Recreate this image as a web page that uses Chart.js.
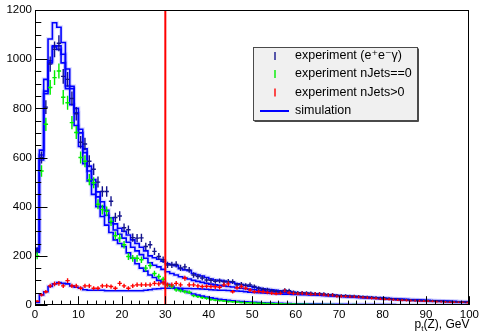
<!DOCTYPE html>
<html><head><meta charset="utf-8">
<script src="https://cdn.jsdelivr.net/npm/chart.js@4.4.0/dist/chart.umd.min.js"></script>
<style>html,body{margin:0;padding:0;background:#fff}#c{display:block}</style>
</head><body>
<canvas id="c" width="482" height="332"></canvas>
<script>
// ---- data (1 GeV bins, 0..100 GeV) ----
const xTicks = [0,10,20,30,40,50,60,70,80,90,100];
const yTicks = [0,200,400,600,800,1000,1200];
const cutValue = 30;
const xTitle = ["p", "t", "(Z), GeV"];
const legendLabels = ["experiment (e\u207Ae\u207B\u03B3)", "experiment nJets==0", "experiment nJets>0", "simulation"];

const expAll = [220,600,805,980,1040,1065,930,918,840,778,
 662,655,585,552,500,462,462,422,356,362,
 314,306,274,272,273,238,245,218,197,184,
 163,163,165,151,155,143,122,116,110,102,
 100,96,98,94,96,95,82,84,80,82,
 75,68,64,62,58,56,54,60,58,52,
 50,50,49,48,46,46,45,42,42,39,
 38,38,36,36,35,33,32,31,30,28,
 27,26,24,23,22,21,20,19,19,18,
 17,17,16,15,14,14,13,12,12,11];
const expJ0 = [200,545,735,885,925,952,845,823,742,702,
 600,585,510,497,410,388,381,340,282,272,
 245,197,190,190,184,150,160,128,116,105,
 80,75,62,58,54,52,38,34,30,27,
 22,20,18,16,14,13,12,10,9,9,
 8,7,7,6,6,5,5,4,4,4,
 3,3,3,2,2,2,2,2,2,1,
 2,1,1,2,1,1,1,1,1,1,
 1,1,1,1,1,1,1,1,1,1,
 1,1,1,1,1,1,1,1,1,1];
const expJ1 = [15,41,54,78,86,88,78,99,78,78,
 68,78,78,68,68,78,78,75,68,88,
 78,68,78,82,82,82,82,88,86,90,
 82,82,88,82,109,82,82,78,75,76,
 75,74,72,82,86,54,70,75,68,61,
 54,55,54,51,48,46,48,58,50,48,
 46,48,46,44,45,44,42,40,40,36,
 36,35,34,34,33,31,30,28,27,25,
 24,23,22,21,20,19,18,18,17,16,
 16,15,14,14,13,12,12,11,11,10];
const simAll = [230,630,918,1082,1148,1130,1068,960,890,800,
 715,635,565,510,460,420,385,355,330,312,
 300,285,265,250,235,220,200,192,186,178,
 168,165,160,148,143,140,128,122,118,112,
 106,102,100,97,94,92,86,83,80,76,
 72,69,66,64,62,60,58,56,54,52,
 50,49,48,46,45,44,42,41,40,38,
 37,36,35,34,33,32,31,30,29,28,
 27,26,25,24,23,22,21,21,20,19,
 18,17,17,16,15,15,14,13,13,12];
const simMid = [225,610,870,993,1054,1054,1020,891,880,782,
 700,620,545,490,440,400,365,335,305,288,
 272,255,235,220,205,190,172,162,155,145,
 135,128,122,115,110,106,100,96,92,88,
 85,82,80,77,75,73,70,68,66,64,
 62,60,58,56,54,53,51,50,49,47,
 46,45,44,43,42,41,40,39,38,37,
 36,35,34,33,32,31,30,29,28,27,
 26,25,24,23,22,22,21,20,19,18,
 18,17,16,15,15,14,14,13,12,12];
const simJ0 = [215,590,860,985,1050,1040,985,880,815,730,
 645,575,505,450,400,360,325,295,265,250,
 238,212,190,168,150,138,122,112,100,92,
 84,76,68,62,56,50,45,40,36,32,
 29,26,23,21,19,17,15,14,13,12,
 11,10,9,8,8,7,7,6,6,5,
 5,5,4,4,4,4,3,3,3,3,
 3,3,2,2,2,2,2,2,2,2,
 2,2,2,1,1,1,1,1,1,1,
 1,1,1,1,1,1,1,1,1,1];
const simJ1 = [10,41,54,75,86,91,88,86,78,72,
 68,62,60,60,60,60,58,58,58,58,
 58,58,58,58,58,60,62,65,66,68,
 68,68,68,68,67,67,66,66,65,64,
 62,61,60,60,59,58,57,56,54,52,
 51,50,49,48,47,46,45,44,44,43,
 43,42,42,41,41,40,39,38,37,36,
 35,34,33,32,31,30,29,28,27,26,
 25,24,23,22,22,21,20,19,18,18,
 17,16,15,15,14,13,13,12,11,11];

// ---- styling ----
const FONT = '"Liberation Sans", Arial, Helvetica, "DejaVu Sans", sans-serif';
const C_ALL = '#14148c', C_J0 = '#00ee00', C_J1 = '#ff0000', C_SIM = '#0000ff';

// histogram outline: bin low/high edge points (listed high-to-low; same drawn path)
function stepPoints(vals){
  const pts = [];
  for (let i = vals.length - 1; i >= 0; i--) { pts.push({x:i+1, y:vals[i]}); pts.push({x:i, y:vals[i]}); }
  return pts;
}
function centerPoints(vals){ return vals.map((v,i)=>({x:i+0.5, y:v})); }

const datasets = [];
[[expAll,C_ALL],[expJ0,C_J0],[expJ1,C_J1]].forEach(([vals,col])=>{
  datasets.push({type:'scatter', data:centerPoints(vals), order:1,
    pointStyle:'line', pointRadius:2.2, pointBorderWidth:1.4, borderColor:col, backgroundColor:col});
});
[simAll, simMid, simJ0, simJ1].forEach(vals=>{
  datasets.push({type:'line', data:stepPoints(vals), order:2, borderColor:C_SIM, borderWidth:1.6, pointRadius:0, fill:false});
  datasets.push({type:'line', data:stepPoints(vals), order:3, borderColor:'rgba(90,90,255,0.2)', borderWidth:4, pointRadius:0, fill:false});
});
const errorSets = [0, 1, 2];

const rootPlugin = {
  id:'rootStyle',
  afterDatasetsDraw(chart){
    const ctx = chart.ctx, ys = chart.scales.y, ca = chart.chartArea;
    ctx.save();
    ctx.beginPath(); ctx.rect(ca.left, ca.top, ca.right-ca.left, ca.bottom-ca.top); ctx.clip();
    errorSets.forEach(di=>{
      const ds = chart.data.datasets[di];
      const meta = chart.getDatasetMeta(di);
      ctx.strokeStyle = ds.borderColor; ctx.lineWidth = 1.4;
      meta.data.forEach((el, i)=>{
        const v = ds.data[i].y, e = Math.sqrt(v);
        ctx.beginPath();
        ctx.moveTo(el.x, ys.getPixelForValue(v+e));
        ctx.lineTo(el.x, ys.getPixelForValue(Math.max(0,v-e)));
        ctx.stroke();
      });
    });
    ctx.restore();
  },
  afterDraw(chart){
    const ctx = chart.ctx, xs = chart.scales.x, ys = chart.scales.y, ca = chart.chartArea;
    ctx.save();
    const xc = xs.getPixelForValue(cutValue);
    ctx.strokeStyle = '#ff0000'; ctx.lineWidth = 2;
    ctx.beginPath(); ctx.moveTo(xc, ca.top); ctx.lineTo(xc, ca.bottom); ctx.stroke();
    ctx.strokeStyle = '#000'; ctx.lineWidth = 1;
    ctx.strokeRect(Math.round(ca.left)+0.5, Math.round(ca.top)+0.5, Math.round(ca.right-ca.left)-1, Math.round(ca.bottom-ca.top)-1);
    ctx.beginPath();
    for (let v = 0; v <= 1200; v += 50) {
      const y = Math.round(ys.getPixelForValue(v)) + 0.5;
      const len = (v % 200 === 0) ? 12.5 : 6.3;
      ctx.moveTo(ca.left, y); ctx.lineTo(ca.left + len, y);
    }
    for (let v = 0; v <= 100; v += 2) {
      const x = Math.round(xs.getPixelForValue(v)) + 0.5;
      const len = (v % 10 === 0) ? 8.8 : 4.4;
      ctx.moveTo(x, ca.bottom); ctx.lineTo(x, ca.bottom - len);
    }
    ctx.stroke();
    ctx.fillStyle = '#000'; ctx.textBaseline = 'alphabetic';
    ctx.font = '12px ' + FONT;
    const w0 = ctx.measureText(xTitle[0]).width, w2 = ctx.measureText(xTitle[2]).width;
    ctx.font = '8px ' + FONT;
    const w1 = ctx.measureText(xTitle[1]).width;
    let tx = ca.right - (w0 + w1 + w2), ty = 328;
    ctx.font = '12px ' + FONT; ctx.fillText(xTitle[0], tx, ty); tx += w0;
    ctx.font = '8px ' + FONT; ctx.fillText(xTitle[1], tx, ty + 3); tx += w1;
    ctx.font = '12px ' + FONT; ctx.fillText(xTitle[2], tx, ty);
    const L = {x:253.5, y:47.5, w:164, h:73};
    ctx.fillStyle = '#f0f0f0'; ctx.fillRect(L.x, L.y, L.w, L.h);
    ctx.strokeStyle = '#4a4a4a'; ctx.lineWidth = 1; ctx.strokeRect(L.x, L.y, L.w, L.h);
    ctx.beginPath(); ctx.moveTo(L.x+1, L.y+L.h+1); ctx.lineTo(L.x+L.w+1, L.y+L.h+1); ctx.lineTo(L.x+L.w+1, L.y+1); ctx.stroke();
    const rows = [56, 74, 92.5, 111];
    const cols = [C_ALL, C_J0, C_J1];
    ctx.lineWidth = 1.4;
    cols.forEach((c, i)=>{
      ctx.strokeStyle = c; ctx.beginPath();
      ctx.moveTo(275, rows[i]-4); ctx.lineTo(275, rows[i]+4); ctx.stroke();
    });
    ctx.strokeStyle = C_SIM; ctx.lineWidth = 2;
    ctx.beginPath(); ctx.moveTo(260, rows[3]); ctx.lineTo(289, rows[3]); ctx.stroke();
    ctx.fillStyle = '#000'; ctx.font = '12.5px ' + FONT; ctx.textBaseline = 'middle';
    legendLabels.forEach((t, i)=> ctx.fillText(t, 295, rows[i]));
    ctx.restore();
  }
};

new Chart(document.getElementById('c'), {
  data: {datasets},
  options: {
    responsive:false, animation:false, devicePixelRatio:1,
    layout:{padding:{left:0, right:10, top:10, bottom:0}},
    plugins:{legend:{display:false}, tooltip:{enabled:false}},
    events:[],
    scales:{
      x:{type:'linear', min:0, max:100,
        afterBuildTicks(s){ s.ticks = xTicks.map(v=>({value:v})); },
        afterFit(s){ s.height = 27; },
        grid:{display:false, drawTicks:false}, border:{display:false},
        ticks:{color:'#000', font:{family:FONT, size:11.5}, padding:3, maxRotation:0, autoSkip:false,
          callback:(v)=>String(v)}},
      y:{type:'linear', min:0, max:1200,
        afterBuildTicks(s){ s.ticks = yTicks.map(v=>({value:v})); },
        afterFit(s){ s.width = 35; },
        grid:{display:false, drawTicks:false}, border:{display:false},
        ticks:{color:'#000', font:{family:FONT, size:11.5}, padding:3, callback:(v)=>String(v)}}
    }
  },
  plugins:[rootPlugin]
});
</script>
</body></html>
